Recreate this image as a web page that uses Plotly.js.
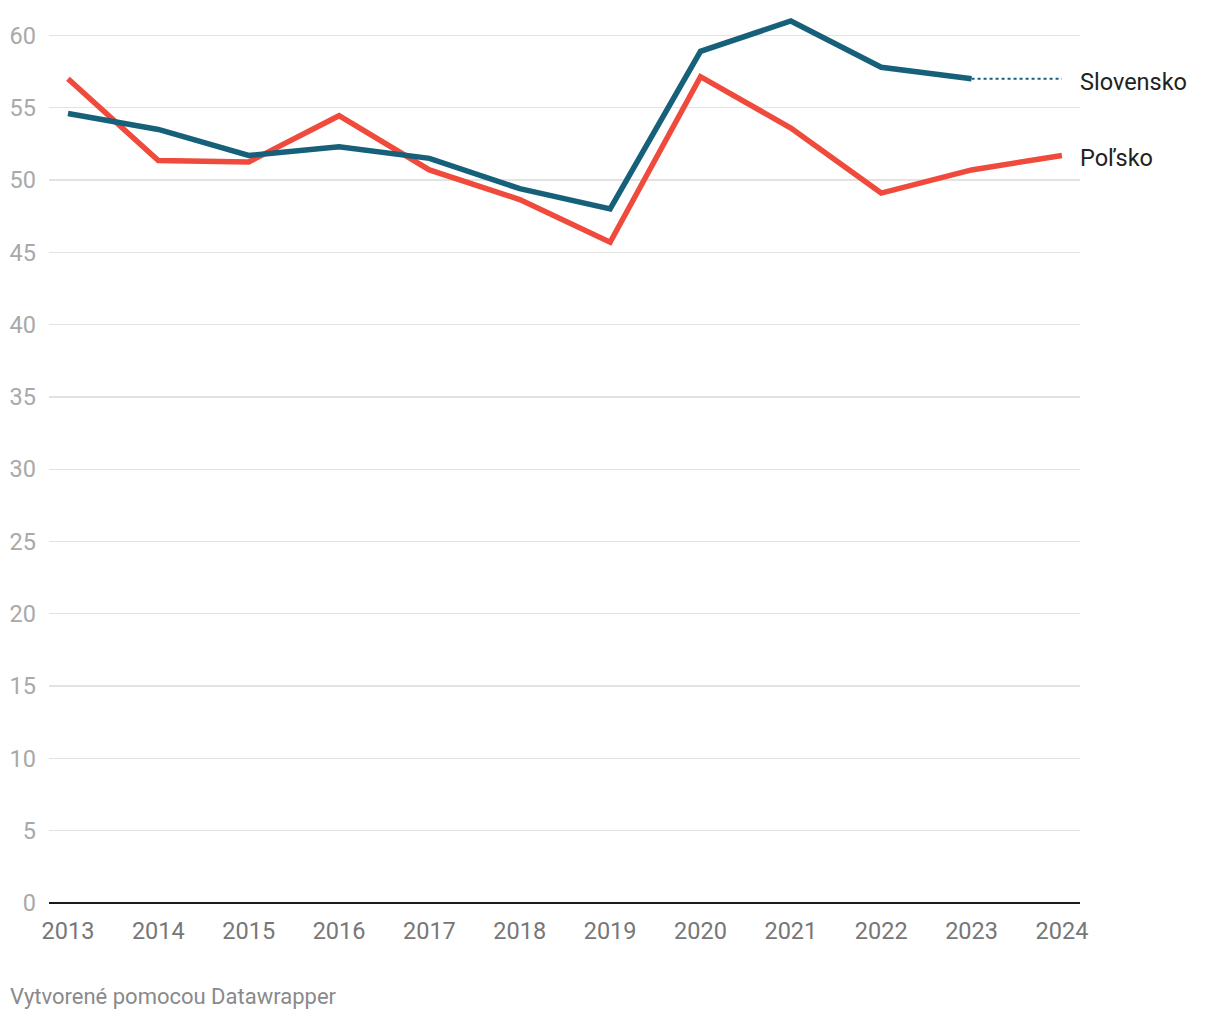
<!DOCTYPE html>
<html>
<head>
<meta charset="utf-8">
<script src="https://cdn.plot.ly/plotly-3.0.1.min.js"></script>
<style>
html,body{margin:0;padding:0;background:#fff;}
#chart{width:1220px;height:1020px;}
</style>
</head>
<body>
<div id="chart"></div>
<script>
const years = [2013, 2014, 2015, 2016, 2017, 2018, 2019, 2020, 2021, 2022, 2023, 2024];
const slovensko = [54.6, 53.5, 51.7, 52.3, 51.5, 49.4, 48.0, 58.9, 61.0, 57.8, 57.0, null];
const polsko = [57.0, 51.35, 51.25, 54.45, 50.7, 48.65, 45.7, 57.15, 53.6, 49.1, 50.7, 51.7];
const seriesNames = ["Slovensko", "Poľsko"];
const footer = "Vytvorené pomocou Datawrapper";

const blue = "#17607a";
const red = "#ef4a3b";

// last known Slovensko value carried as dotted placeholder
let lastIdx = slovensko.length - 1;
while (slovensko[lastIdx] === null) lastIdx--;
const lastSk = slovensko[lastIdx];
const dottedX = [years[lastIdx], years[years.length - 1]];
const dottedY = [lastSk, lastSk];

const traces = [
  {x: dottedX, y: dottedY, mode: "lines", line: {color: blue, width: 2, dash: "dot"}, hoverinfo: "skip", showlegend: false},
  {x: years, y: polsko, mode: "lines", name: seriesNames[1], line: {color: red, width: 5.5}, showlegend: false},
  {x: years, y: slovensko, mode: "lines", name: seriesNames[0], line: {color: blue, width: 5.5}, connectgaps: false, showlegend: false}
];

const layout = {
  width: 1220, height: 1020,
  margin: {l: 49, r: 140, t: 10, b: 117},
  paper_bgcolor: "#fff", plot_bgcolor: "#fff",
  font: {family: "Roboto, sans-serif"},
  xaxis: {
    range: [2012.79, 2024.2],
    tickmode: "array", tickvals: years, ticktext: years.map(String),
    showgrid: false, zeroline: false, showline: false,
    ticks: "", ticklabelstandoff: 11,
    tickfont: {size: 23.5, color: "#777", family: "Roboto, sans-serif"}
  },
  yaxis: {
    range: [0, 61.76],
    tickmode: "linear", tick0: 0, dtick: 5,
    showgrid: true, gridcolor: "#e2e2e2", gridwidth: 1.3,
    zeroline: true, zerolinecolor: "#1a1a1a", zerolinewidth: 2,
    showline: false, ticks: "", ticklabelstandoff: 12,
    tickfont: {size: 23.5, color: "#a9a9a9", family: "Roboto, sans-serif"}
  },
  annotations: [
    {xref: "paper", yref: "y", x: 1, y: lastSk, xanchor: "left", yanchor: "middle", yshift: -3, xshift: -2,
     text: seriesNames[0], showarrow: false, font: {size: 23.5, color: "#222", family: "Roboto, sans-serif"}},
    {xref: "paper", yref: "y", x: 1, y: polsko[polsko.length - 1], xanchor: "left", yanchor: "middle", yshift: -3, xshift: -2,
     text: seriesNames[1], showarrow: false, font: {size: 23.5, color: "#222", family: "Roboto, sans-serif"}},
    {xref: "paper", yref: "paper", x: -0.0378, y: -0.105, xanchor: "left", yanchor: "middle", xshift: -2,
     text: footer, showarrow: false, font: {size: 22, color: "#8a8a8a", family: "Roboto, sans-serif"}}
  ]
};

Plotly.newPlot("chart", traces, layout, {displayModeBar: false, staticPlot: true});
</script>
</body>
</html>
